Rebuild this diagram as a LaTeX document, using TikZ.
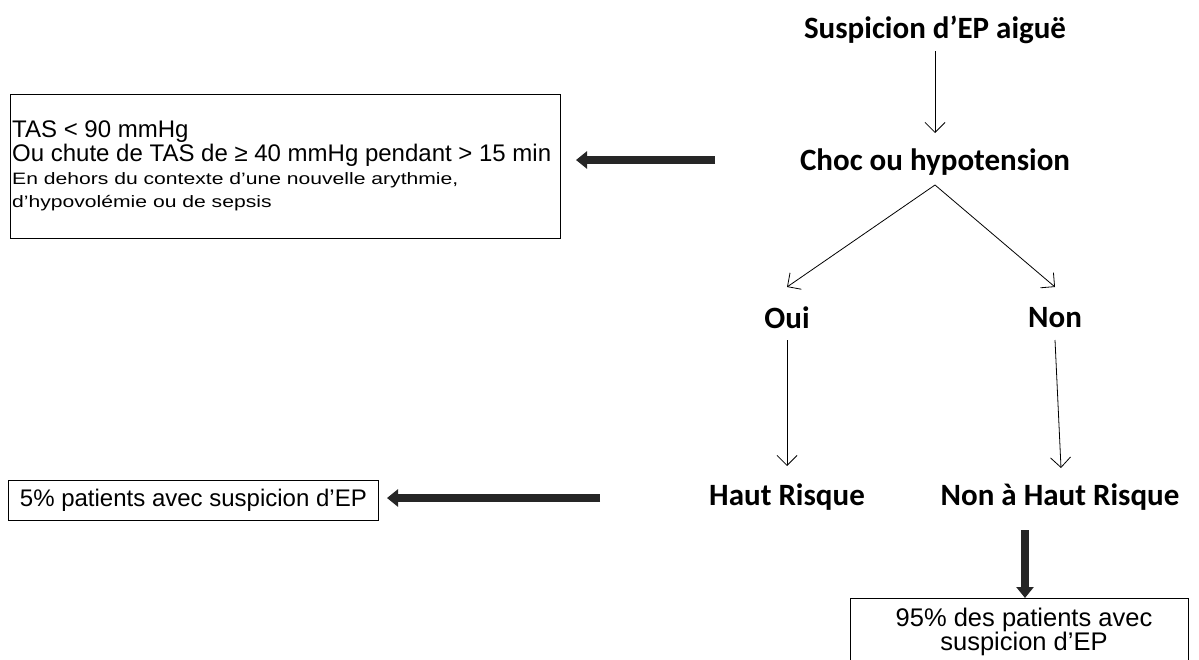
\documentclass[tikz,border=0pt]{standalone}
\usepackage{fontspec}
\setmainfont{Liberation Sans}
\newfontfamily\headfont{Carlito}
\newfontfamily\widefont{Liberation Sans}[FakeStretch=1.28]
\usetikzlibrary{arrows.meta,positioning}

\begin{document}
\begin{tikzpicture}[
  x=1pt,y=-1pt,
  head/.style={font=\headfont\bfseries\fontsize{31}{34}\selectfont,inner sep=2pt},
  info/.style={draw,thick,inner sep=0pt,anchor=north west},
  arr/.style={-{Straight Barb[length=10pt,width=20pt]},thick},
  fat/.style={-{Triangle[length=11pt,width=17pt]},line width=8pt,draw=black!85}
]
\useasboundingbox (0,0) rectangle (1199,659);
\clip (0,0) rectangle (1199,659);
% decision tree
\node[head] (susp) at (935,30)  {Suspicion d’EP aiguë};
\node[head] (choc) at (935,162) {Choc ou hypotension};
\node[head] (oui)  at (787,318) {Oui};
\node[head] (non)  at (1055,318) {Non};
\node[head] (haut) at (787,497) {Haut Risque};
\node[head] (nhr)  at (1060,497) {Non à Haut Risque};
\coordinate (chocS) at (935,185);
\draw[arr] (susp.south) ++(0,5) -- (935,133);
\draw[arr] (chocS) -- (787,287);
\draw[arr] (chocS) -- (1055,287);
\draw[arr] (787,340) -- (787,466);
\draw[arr] (1055,340) -- (1061,468);
% side boxes
\node[info,minimum width=550pt,minimum height=144pt] (tas) at (10,94) {};
\node[anchor=north west,align=left,inner sep=0pt,font=\fontsize{24}{24}\selectfont] (tastxt) at (12,121)
  {TAS < 90 mmHg\\Ou chute de TAS de ≥ 40 mmHg pendant > 15 min\\[-1pt]
   {\widefont\fontsize{16.5}{22}\selectfont En dehors du contexte d’une nouvelle arythmie,}\\[-1pt]
   {\widefont\fontsize{16.5}{22}\selectfont d’hypovolémie ou de sepsis}};
\node[info,minimum width=370pt,minimum height=40pt] (cinq) at (8,480) {};
\node[font=\fontsize{24}{26}\selectfont] (cinqtxt) at (cinq.center) {5\% patients avec suspicion d’EP};
\node[info,minimum width=338pt,minimum height=100pt] (nfive) at (850,598) {};
\node[align=center,font=\fontsize{25.5}{23}\selectfont] (nfivetxt) at (1024,632) {95\% des patients avec\\suspicion d’EP};
% thick arrows
\coordinate (a1s) at (715,160);
\coordinate (a1e) at (576,160);
\coordinate (a2s) at (600,498);
\coordinate (a2e) at (387,498);
\coordinate (a3s) at (1025,530);
\coordinate (a3e) at (1025,598);
\draw[fat] (a1s) -- (a1e);
\draw[fat] (a2s) -- (a2e);
\draw[fat] (a3s) -- (a3e);
\end{tikzpicture}
\end{document}
